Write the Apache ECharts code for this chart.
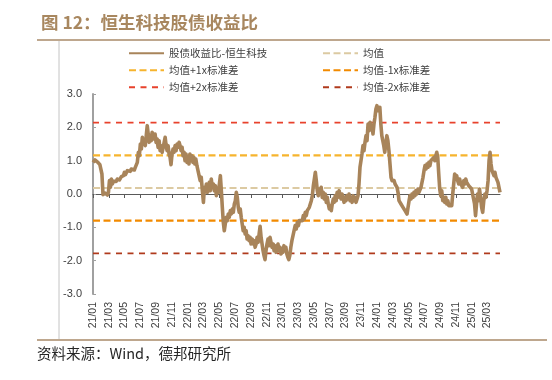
<!DOCTYPE html>
<html>
<head>
<meta charset="utf-8">
<script src="https://cdn.jsdelivr.net/npm/echarts@6/dist/echarts.min.js"></script>
<style>html,body{margin:0;padding:0;background:#fff}#c{width:552px;height:380px}</style>
</head>
<body>
<div id="c"></div>
<script>
// ---- data ----
const startDate = '2021-01-01';
const stepDays = 3.853; // spacing between successive observations
const ratio = [
0.95,1.0,1.02,1.0,0.98,0.95,0.92,0.88,0.85,0.6,
-0.02,0.02,0.03,0.0,-0.03,0.05,0.4,0.2,0.45,0.3,
0.38,0.42,0.35,0.38,0.45,0.5,0.42,0.45,0.52,0.58,
0.55,0.65,0.58,0.6,0.7,0.75,0.65,0.68,0.75,0.78,
0.7,0.72,0.8,0.85,0.95,1.25,1.15,1.5,1.35,1.7,
1.5,1.6,1.45,1.75,2.05,1.8,1.55,1.75,1.6,1.85,
1.9,1.65,1.8,1.55,1.65,1.4,1.6,1.3,1.45,1.25,
1.4,1.55,1.7,1.45,1.3,1.45,1.2,1.1,0.88,1.2,
1.35,1.25,1.45,1.3,1.5,1.4,1.55,1.45,1.3,1.4,
1.15,1.25,1.0,1.2,0.95,1.1,0.9,1.2,1.0,1.15,
0.95,1.1,0.9,1.05,0.85,0.7,0.75,0.4,0.5,0.1,
-0.25,0.2,0.1,0.3,0.05,0.2,0.35,0.1,0.45,0.2,
0.3,0.1,0.25,-0.05,0.15,0.05,0.3,0.55,0.1,-0.4,
-0.85,-1.1,-0.9,-0.7,-0.8,-0.6,-0.7,-0.5,-0.6,-0.45,
-0.55,-0.3,-0.2,0.05,-0.1,-0.4,-0.55,-0.45,-0.7,-0.9,
-1.1,-1.0,-1.2,-1.1,-1.35,-1.25,-1.4,-1.3,-1.5,-1.35,
-1.5,-1.4,-1.6,-1.5,-1.3,-1.45,-1.2,-0.97,-1.3,-1.5,
-1.7,-1.85,-1.97,-1.7,-1.5,-1.35,-1.55,-1.3,-1.45,-1.6,
-1.5,-1.7,-1.55,-1.75,-1.6,-1.5,-1.7,-1.6,-1.8,-1.65,
-1.75,-1.55,-1.7,-1.6,-1.8,-1.9,-1.97,-1.85,-1.6,-1.4,
-1.25,-1.1,-0.95,-1.05,-0.85,-0.95,-0.8,-0.85,-0.75,-0.8,
-0.65,-0.75,-0.55,-0.65,-0.5,-0.55,-0.4,-0.45,-0.2,-0.05,
0.25,0.45,0.65,0.4,0.1,-0.05,0.15,0.05,0.2,-0.1,
0.05,-0.15,0.0,-0.25,-0.1,-0.3,-0.45,-0.35,-0.5,-0.3,
-0.15,-0.25,-0.05,-0.2,0.05,-0.1,0.1,-0.05,-0.15,0.0,
-0.1,-0.25,-0.1,-0.2,-0.05,-0.15,0.0,-0.2,-0.1,-0.25,
-0.05,-0.2,-0.1,-0.25,-0.15,-0.05,0.3,0.8,1.0,1.2,
1.45,1.3,1.55,1.75,1.6,2.1,1.9,2.15,1.95,2.05,
1.8,2.1,2.3,2.55,2.65,2.5,2.55,2.6,2.1,1.75,
1.6,1.45,1.25,1.5,1.75,1.6,1.3,0.9,0.5,0.4,
0.35,0.4,0.3,0.35,0.2,0.05,-0.2,-0.15,-0.3,-0.25,
-0.4,-0.35,-0.5,-0.55,-0.6,-0.4,-0.2,-0.05,-0.15,0.0,
-0.1,0.05,-0.05,0.1,0.0,0.15,0.05,0.1,0.2,0.25,
0.5,0.7,0.85,0.75,0.9,0.8,0.95,0.85,1.0,0.95,
1.05,1.1,1.0,1.15,1.25,1.1,0.6,0.15,-0.05,0.1,
-0.2,-0.1,-0.25,-0.1,-0.3,-0.2,-0.35,-0.3,-0.4,-0.35,
0.0,0.3,0.6,0.45,0.55,0.4,0.3,0.45,0.3,0.35,
0.2,0.4,0.3,0.45,0.35,0.4,0.25,0.3,0.2,0.15,
0.1,-0.15,-0.3,-0.65,-0.3,0.0,-0.2,0.15,-0.1,-0.4,
-0.55,-0.2,0.0,-0.1,0.1,0.4,1.0,1.25,0.9,0.7,
0.75,0.55,0.65,0.5,0.55,0.35,0.2,0.05
];
const meanVal = 0.18;
const stdVal = 0.98;
const tickLabels = ['21/01','21/03','21/05','21/07','21/09','21/11','22/01','22/03','22/05','22/07','22/09','22/11','23/01','23/03','23/05','23/07','23/09','23/11','24/01','24/03','24/05','24/07','24/09','24/11','25/01','25/03'];
const yTicks = [-3, -2, -1, 0, 1, 2, 3];
const seriesNames = ['股债收益比-恒生科技','均值','均值+1x标准差','均值-1x标准差','均值+2x标准差','均值-2x标准差'];

// ---- helpers ----
const t0 = new Date(startDate + 'T00:00:00Z').getTime();
function toMonthIndex(ts) {
  const d = new Date(ts);
  const y = d.getUTCFullYear(), mo = d.getUTCMonth(), day = d.getUTCDate();
  const dim = new Date(Date.UTC(y, mo + 1, 0)).getUTCDate();
  return (y - 2021) * 12 + mo + (day - 1 + d.getUTCHours() / 24) / dim;
}
const xs = ratio.map((v, i) => toMonthIndex(t0 + i * stepDays * 86400000));
const mainData = ratio.map((v, i) => [xs[i], v]);
const xMin = 0, xMax = xs[xs.length - 1];
const tickVals = tickLabels.map((s, i) => {
  const yy = 2000 + parseInt(s.slice(0, 2), 10), mm = parseInt(s.slice(3), 10);
  return (yy - 2021) * 12 + (mm - 1);
});
function flat(v) { return [[xMin, v], [xMax, v]]; }

const CJK = "'Noto Sans CJK SC', 'Noto Sans', sans-serif";
const LAT = "'Liberation Sans', Arial, sans-serif";

const statDefs = [
  { name: seriesNames[1], k: 0, color: '#dccaa2', dash: [7, 3.5], w: 2.2 },
  { name: seriesNames[2], k: 1, color: '#f6b42e', dash: [7, 3.5], w: 2.2 },
  { name: seriesNames[3], k: -1, color: '#f28a00', dash: [7, 3.5], w: 2.2 },
  { name: seriesNames[4], k: 2, color: '#e8422c', dash: [6, 5.5], w: 1.8 },
  { name: seriesNames[5], k: -2, color: '#b03a1c', dash: [6, 5.5], w: 1.8 }
];

const series = statDefs.map(s => ({
  name: s.name, type: 'line', symbol: 'none', silent: true,
  data: flat(meanVal + s.k * stdVal),
  lineStyle: { color: s.color, width: s.w, type: s.dash },
  itemStyle: { color: s.color }
}));
series.push({
  name: seriesNames[0], type: 'line', symbol: 'none', silent: true,
  data: mainData,
  lineStyle: { color: '#a8845a', width: 3.6, join: 'round' },
  itemStyle: { color: '#a8845a' }
});

const chart = echarts.init(document.getElementById('c'), null, { renderer: 'canvas' });
const legendCommon = {
  orient: 'vertical', itemWidth: 35, itemHeight: 10, itemGap: 6.5, padding: 0,
  selectedMode: false,
  itemStyle: { opacity: 0 },
  textStyle: { fontFamily: CJK, fontSize: 10.5, color: '#404040' }
};
chart.setOption({
  animation: false,
  backgroundColor: '#fff',
  title: {
    text: '图 12：恒生科技股债收益比', left: 36, top: 9,
    textStyle: { fontFamily: CJK, fontSize: 17.5, fontWeight: 'bold', color: '#a8875f' }
  },
  legend: [
    Object.assign({}, legendCommon, { left: 128, top: 48, data: [seriesNames[0], seriesNames[2], seriesNames[4]] }),
    Object.assign({}, legendCommon, { left: 322, top: 48, data: [seriesNames[1], seriesNames[3], seriesNames[5]] })
  ],
  grid: { left: 93, right: 52, top: 94, bottom: 86 },
  xAxis: [
    {
      type: 'value', min: xMin, max: xMax, position: 'bottom',
      axisLine: { show: false, onZero: false },
      axisTick: { show: false },
      splitLine: { show: false },
      axisLabel: {
        customValues: tickVals, rotate: 90, margin: 8,
        fontFamily: LAT, fontSize: 10.5, color: '#404040',
        formatter: v => { const i = tickVals.findIndex(t => Math.abs(t - v) < 1e-6); return i >= 0 ? tickLabels[i] : ''; }
      }
    },
    {
      type: 'value', min: xMin, max: xMax, position: 'bottom',
      axisLine: { show: true, onZero: true, lineStyle: { color: '#595959', width: 1 } },
      axisTick: { show: true, customValues: tickVals, length: 4, lineStyle: { color: '#595959', width: 1 } },
      axisLabel: { show: false },
      splitLine: { show: false }
    }
  ],
  yAxis: {
    type: 'value', min: -3, max: 3, interval: 1,
    axisLine: { show: true, lineStyle: { color: '#a0a0a0', width: 2 } },
    axisTick: { show: true, inside: true, length: 3, customValues: yTicks, lineStyle: { color: '#a0a0a0' } },
    splitLine: { show: false },
    axisLabel: { margin: 11, fontFamily: LAT, fontSize: 11, color: '#404040', formatter: v => v.toFixed(1) }
  },
  graphic: [
    { type: 'line', shape: { x1: 37, y1: 40, x2: 550, y2: 40 }, style: { stroke: '#a88a68', lineWidth: 1.6 }, silent: true },
    { type: 'line', shape: { x1: 37, y1: 340, x2: 547, y2: 340 }, style: { stroke: '#a88a68', lineWidth: 1.6 }, silent: true },
    { type: 'line', shape: { x1: 59, y1: 41, x2: 59, y2: 339 }, style: { stroke: '#c4c4c4', lineWidth: 1 }, silent: true },
    { type: 'text', left: 37, top: 346, style: { text: '资料来源：Wind，德邦研究所', font: "14.5px 'Noto Sans CJK SC', sans-serif", fill: '#262626' }, silent: true }
  ],
  series: series
});
</script>
</body>
</html>
